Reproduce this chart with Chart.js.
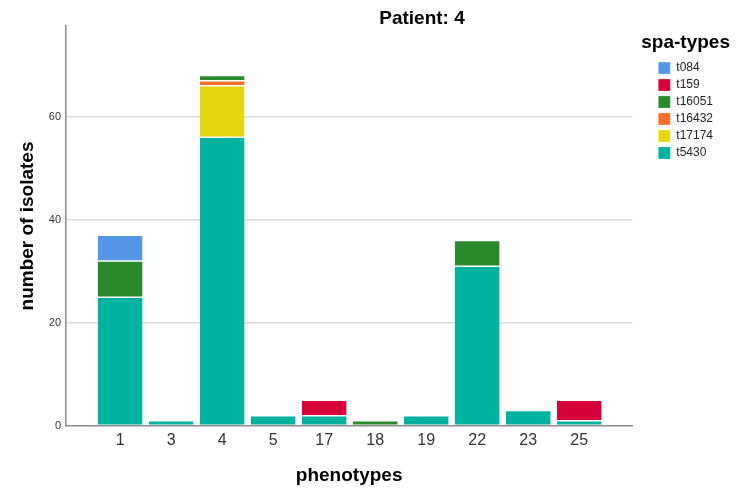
<!DOCTYPE html>
<html>
<head>
<meta charset="utf-8">
<script src="https://cdn.jsdelivr.net/npm/chart.js@4.4.1/dist/chart.umd.min.js"></script>
<style>
  html, body { margin: 0; padding: 0; background: #fff; }
  #wrap { width: 742px; height: 493px; position: relative; }
</style>
</head>
<body>
<div id="wrap"><canvas id="chart"></canvas></div>
<script>
const TITLE = 'Patient: 4';
const LEGEND_TITLE = 'spa-types';
const phenotypes = ['1', '3', '4', '5', '17', '18', '19', '22', '23', '25'];
const t5430  = [25, 1, 56, 2, 2, 0, 2, 31, 3, 1];
const t17174 = [0, 0, 10, 0, 0, 0, 0, 0, 0, 0];
const t16432 = [0, 0, 1, 0, 0, 0, 0, 0, 0, 0];
const t16051 = [7, 0, 1, 0, 0, 1, 0, 5, 0, 0];
const t159   = [0, 0, 0, 0, 3, 0, 0, 0, 0, 4];
const t084   = [5, 0, 0, 0, 0, 0, 0, 0, 0, 0];
const yTicks = [0, 20, 40, 60];

const FONT = '"Liberation Sans", Arial, sans-serif';

// bottom of stack first; legend is shown reversed
const series = [
  { label: 't5430',  data: t5430,  color: '#00b2a0' },
  { label: 't17174', data: t17174, color: '#e4d611' },
  { label: 't16432', data: t16432, color: '#f96e2a' },
  { label: 't16051', data: t16051, color: '#2a8a2b' },
  { label: 't159',   data: t159,   color: '#d70038' },
  { label: 't084',   data: t084,   color: '#5596e6' },
];

const toPoints = arr => arr.map((v, i) => ({ x: i, y: v ? v : null }));

// chart title and legend heading, placed like the SPSS output
const titlePlugin = {
  id: 'topTitle',
  afterDraw(chart) {
    const ctx = chart.ctx;
    ctx.save();
    ctx.font = 'bold 19px ' + FONT;
    ctx.fillStyle = '#000';
    ctx.textBaseline = 'middle';
    ctx.textAlign = 'center';
    ctx.fillText(TITLE, 422, 19);
    ctx.textAlign = 'left';
    ctx.fillText(LEGEND_TITLE, chart.legend.left - 12, 43);
    ctx.restore();
  }
};

new Chart(document.getElementById('chart'), {
  type: 'bar',
  data: {
    datasets: series.map(s => ({
      label: s.label,
      data: toPoints(s.data),
      backgroundColor: s.color,
      borderColor: 'rgba(255,255,255,0.3)',
      borderWidth: 0.75,
      borderSkipped: false,
      barPercentage: 0.9,
      categoryPercentage: 1,
    }))
  },
  plugins: [titlePlugin],
  options: {
    responsive: true, maintainAspectRatio: false,
    animation: false,
    layout: { padding: { left: 12, right: 19, top: 26, bottom: 6 } },
    plugins: {
      legend: {
        position: 'right', align: 'start', reverse: true,
        title: {
          display: true, text: ' ',
          font: { family: FONT, size: 19, weight: 'bold' },
          padding: { top: 5.6, bottom: 2.6 }
        },
        labels: {
          boxWidth: 12, boxHeight: 12, padding: 5, color: '#222',
          font: { family: FONT, size: 12 }
        }
      },
      tooltip: { enabled: false }
    },
    scales: {
      x: {
        type: 'linear', stacked: true, offset: false, min: -1.06, max: 10.04,
        afterBuildTicks: s => { s.ticks = phenotypes.map((_, i) => ({ value: i })); },
        afterFit: s => { s.height = 493 - 426 - 6; },
        grid: { display: false, drawTicks: false },
        border: { color: '#8c8c8c', width: 1.5 },
        ticks: {
          padding: 5, color: '#333', font: { family: FONT, size: 16 },
          callback: v => phenotypes[v]
        },
        title: {
          display: true, text: 'phenotypes', color: '#000',
          font: { family: FONT, size: 19, weight: 'bold' },
          padding: { top: 0, bottom: 0 }
        }
      },
      y: {
        stacked: true, min: 0, max: 77.6,
        afterBuildTicks: s => { s.ticks = yTicks.map(v => ({ value: v })); },
        afterFit: s => { s.width = 66 - 12; },
        grid: {
          drawTicks: false, lineWidth: 1.5,
          color: c => c.tick && c.tick.value === 0 ? 'rgba(0,0,0,0)' : '#d9d9d9'
        },
        border: { color: '#8c8c8c', width: 1.5 },
        ticks: { padding: 5, color: '#333', font: { family: FONT, size: 11 } },
        title: {
          display: true, text: 'number of isolates', color: '#000',
          font: { family: FONT, size: 19, weight: 'bold' },
          padding: { top: 4, bottom: 0 }
        }
      },
      // empty spacer between plot and legend
      gap: {
        position: 'right', display: true,
        afterFit: s => { s.width = 21; },
        grid: { display: false }, border: { display: false },
        ticks: { display: false }
      }
    }
  }
});
</script>
</body>
</html>
